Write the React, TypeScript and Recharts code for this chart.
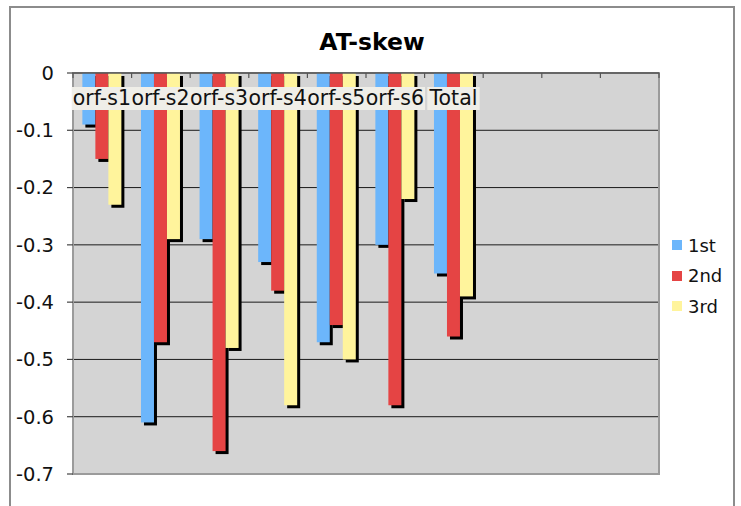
import React from 'react';
import {
  BarChart,
  Bar,
  XAxis,
  YAxis,
  CartesianGrid,
  Legend,
  LabelList,
  ReferenceArea,
} from 'recharts';

const categories = ['orf-s1', 'orf-s2', 'orf-s3', 'orf-s4', 'orf-s5', 'orf-s6', 'Total', ' ', '  ', '   '];
const first = [-0.09, -0.61, -0.29, -0.33, -0.47, -0.3, -0.35, null, null, null];
const second = [-0.15, -0.47, -0.66, -0.38, -0.44, -0.58, -0.46, null, null, null];
const third = [-0.23, -0.29, -0.48, -0.58, -0.5, -0.22, -0.39, null, null, null];
const yTicks = [0, -0.1, -0.2, -0.3, -0.4, -0.5, -0.6, -0.7];
const seriesNames = ['1st', '2nd', '3rd'];

const data = categories.map((name, i) => ({
  name,
  first: first[i],
  second: second[i],
  third: third[i],
}));

const COLORS = ['#6cb6fb', '#e54444', '#fff49c'];
const FONT = '"DejaVu Sans", Verdana, sans-serif';

const CHAR_W: Record<string, number> = {
  o: 0.612, r: 0.411, f: 0.352, '-': 0.361, s: 0.521, T: 0.611, t: 0.392, a: 0.613, l: 0.278,
};
const textWidth = (s: string, size: number) =>
  s.split('').reduce((acc, c) => acc + (/[0-9]/.test(c) ? 0.636 : CHAR_W[c] ?? 0.6), 0) * size;

const ShadowBar = (props: any) => {
  const { x, y, width, height, fill } = props;
  const nx = Number(x), ny = Number(y), nw = Number(width), nh = Number(height);
  if (![nx, ny, nw, nh].every(Number.isFinite) || nw <= 0 || nh === 0) return null;
  const top = Math.min(ny, ny + nh);
  const h = Math.abs(nh);
  return (
    <g>
      <rect x={nx + 3} y={top + 3} width={nw} height={h} fill="#000" />
      <rect x={nx} y={top} width={nw} height={h} fill={fill} />
    </g>
  );
};

const CategoryLabel = (props: any) => {
  const vb = props.viewBox && props.viewBox.width != null ? props.viewBox : props;
  const { value } = props;
  if (value == null || String(value).trim() === '') return null;
  const x = Number(vb.x), y = Number(vb.y), w = Number(vb.width), h = Number(vb.height);
  if (![x, y, w, h].every(Number.isFinite)) return null;
  const zero = Math.min(y, y + h);
  const cx = x - w / 2;
  const size = 20.5;
  const tw = textWidth(String(value), size) + 1;
  return (
    <g>
      <rect x={cx - tw / 2} y={zero + 14} width={tw} height={23} fill="#efeee8" />
      <text
        x={cx}
        y={zero + 32}
        textAnchor="middle"
        fontSize={size}
        fontFamily={FONT}
        fill="#111"
      >
        {String(value)}
      </text>
    </g>
  );
};

const BoundaryTick = (props: any) => {
  const { x, y, index, visibleTicksCount, width } = props;
  const count = Number(visibleTicksCount) || categories.length;
  const bw = Number(width) > 0 ? Number(width) / count : 58.55;
  const cx = Number(x), cy = Number(y);
  return (
    <g>
      <line x1={cx - bw / 2} x2={cx - bw / 2} y1={cy} y2={cy + 5} stroke="#555" strokeWidth={1.2} />
      {index === count - 1 && (
        <line x1={cx + bw / 2} x2={cx + bw / 2} y1={cy} y2={cy + 5} stroke="#555" strokeWidth={1.2} />
      )}
    </g>
  );
};

const LegendContent = (props: any) => {
  const payload = props.payload || [];
  return (
    <div style={{ fontFamily: FONT, fontSize: 18, color: '#111' }}>
      {payload.map((p: any, i: number) => (
        <div key={i} style={{ display: 'flex', alignItems: 'center', height: 30.5 }}>
          <span style={{ display: 'inline-block', width: 10, height: 10, background: p.color, marginRight: 6 }} />
          <span>{p.value}</span>
        </div>
      ))}
    </div>
  );
};

export default function App() {
  return (
    <div style={{ position: 'absolute', left: 0, top: 0, width: 741, height: 506, overflow: 'hidden', background: '#fff' }}>
      <div
        style={{
          position: 'absolute',
          left: 9,
          top: 6,
          width: 726,
          height: 540,
          border: '2px solid #8c8c8c',
          boxSizing: 'border-box',
        }}
      />
      <div
        style={{
          position: 'absolute',
          left: 0,
          width: 744,
          top: 30.5,
          textAlign: 'center',
          fontFamily: FONT,
          fontWeight: 'bold',
          fontSize: 23.5,
          lineHeight: '23px',
          color: '#000',
        }}
      >
        AT-skew
      </div>
      <div style={{ position: 'absolute', left: 0, top: 0 }}>
        <BarChart
          width={741}
          height={506}
          data={data}
          margin={{ top: 63, right: 82, bottom: 32, left: 0 }}
          barCategoryGap="16%"
          barGap={0}
        >
          <CartesianGrid horizontal vertical={false} stroke="#1a1a1a" strokeWidth={1} fill="#d4d4d4" fillOpacity={1} />
          <ReferenceArea y1={-0.7} y2={0} fill="none" stroke="#9b9b9b" strokeWidth={2} ifOverflow="visible" />
          <XAxis
            dataKey="name"
            orientation="top"
            height={10}
            axisLine={{ stroke: '#555', strokeWidth: 1.5 }}
            tickLine={false}
            tickSize={0}
            tickMargin={0}
            tick={<BoundaryTick />}
            interval={0}
          />
          <YAxis
            width={73}
            domain={[-0.7, 0]}
            ticks={yTicks}
            axisLine={false}
            tickLine={{ stroke: '#444', strokeWidth: 1.2 }}
            tickSize={6}
            tickMargin={13}
            tick={{ fontSize: 19.5, fontFamily: FONT, fill: '#111' }}
            tickFormatter={(v: number) => String(v)}
          />
          <Legend
            layout="vertical"
            align="center"
            verticalAlign="middle"
            wrapperStyle={{ left: 672, top: 230, width: 70 }}
            content={<LegendContent />}
          />
          <Bar dataKey="first" name={seriesNames[0]} fill={COLORS[0]} shape={<ShadowBar />} isAnimationActive={false} />
          <Bar dataKey="second" name={seriesNames[1]} fill={COLORS[1]} shape={<ShadowBar />} isAnimationActive={false} />
          <Bar dataKey="third" name={seriesNames[2]} fill={COLORS[2]} shape={<ShadowBar />} isAnimationActive={false}>
            <LabelList dataKey="name" content={<CategoryLabel />} />
          </Bar>
        </BarChart>
      </div>
    </div>
  );
}
